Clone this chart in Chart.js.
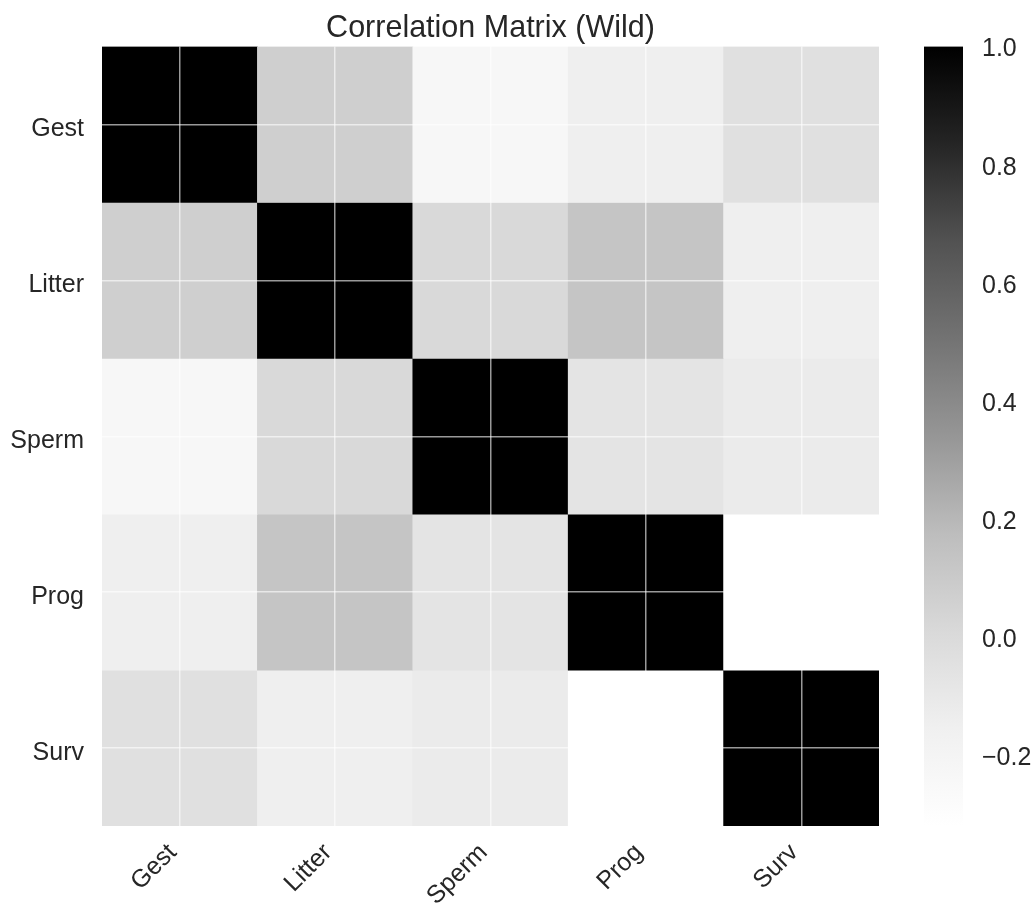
<!DOCTYPE html>
<html>
<head>
<meta charset="utf-8">
<script src="https://cdn.jsdelivr.net/npm/chart.js@4/dist/chart.umd.min.js"></script>
<style>
  body { margin: 0; background: #fff; }
  canvas { display: block; }
</style>
</head>
<body>
<canvas id="grafico" width="1036" height="909"></canvas>
<script>
// dados
const variaveis = ["Gest", "Litter", "Sperm", "Prog", "Surv"];
const linhaGest   = [1.00, 0.07, -0.23, -0.15, -0.04];
const linhaLitter = [0.07, 1.00, 0.01, 0.13, -0.15];
const linhaSperm  = [-0.23, 0.01, 1.00, -0.07, -0.12];
const linhaProg   = [-0.15, 0.13, -0.07, 1.00, -0.32];
const linhaSurv   = [-0.04, -0.15, -0.12, -0.32, 1.00];
const matriz = [linhaGest, linhaLitter, linhaSperm, linhaProg, linhaSurv];
const ticksBarra = [-0.2, 0.0, 0.2, 0.4, 0.6, 0.8, 1.0];

const vmin = Math.min(...matriz.flat());
const vmax = Math.max(...matriz.flat());

// paleta Greys (matplotlib)
const greys = [255, 240, 217, 189, 150, 115, 82, 37, 0];

function cinza(v) {
  let t = (v - vmin) / (vmax - vmin);
  t = Math.max(0, Math.min(1, t));
  let p = t * (greys.length - 1);
  let i = Math.min(Math.floor(p), greys.length - 2);
  let g = Math.round(greys[i] + (greys[i + 1] - greys[i]) * (p - i));
  return `rgb(${g},${g},${g})`;
}

const fonte = "'Liberation Sans', Arial, sans-serif";
const corTexto = "#262626";
const corGrade = "rgba(255,255,255,0.6)";

// cada linha da matriz vira um dataset empilhado
const datasets = matriz.map((linha, i) => ({
  label: variaveis[i],
  data: linha.map(() => 1),
  backgroundColor: linha.map(v => cinza(v)),
  borderWidth: 0,
  categoryPercentage: 1,
  barPercentage: 1
}));

// barra de cores desenhada na escala "cb"
const barraCores = {
  id: "barraCores",
  afterDraw(chart) {
    const s = chart.scales.cb;
    const ctx = chart.ctx;
    const x0 = s.left + 45;
    const w = 39;
    const yTop = s.getPixelForValue(vmax);
    const yBot = s.getPixelForValue(vmin);
    const grad = ctx.createLinearGradient(0, yBot, 0, yTop);
    greys.forEach((g, i) => {
      grad.addColorStop(i / (greys.length - 1), `rgb(${g},${g},${g})`);
    });
    ctx.save();
    ctx.fillStyle = grad;
    ctx.fillRect(x0, yTop, w, yBot - yTop);
    ctx.restore();
  }
};

let chart = new Chart(document.getElementById("grafico"), {
  type: "bar",
  data: { labels: variaveis, datasets: datasets },
  options: {
    responsive: false,
    animation: false,
    layout: { padding: 0 },
    plugins: {
      legend: { display: false },
      tooltip: { enabled: false },
      title: {
        display: true,
        fullSize: false,
        text: "Correlation Matrix (Wild)",
        color: corTexto,
        font: { family: fonte, size: 30.5, weight: "normal" },
        padding: { top: 10, bottom: 0 }
      }
    },
    scales: {
      x: {
        stacked: true,
        offset: true,
        grid: { offset: false, color: corGrade, lineWidth: 1.5, drawTicks: false, z: 1 },
        border: { display: false },
        ticks: {
          color: corTexto,
          font: { family: fonte, size: 25 },
          minRotation: 45,
          maxRotation: 45,
          autoSkip: false,
          padding: 12,
          labelOffset: -7
        },
        afterFit(s) { s.height = 83; }
      },
      y: {
        stacked: true,
        reverse: true,
        min: 0,
        max: variaveis.length,
        display: false
      },
      yl: {
        type: "category",
        labels: variaveis,
        position: "left",
        offset: true,
        grid: { offset: false, color: corGrade, lineWidth: 1.5, drawTicks: false, z: 1 },
        border: { display: false },
        ticks: { color: corTexto, font: { family: fonte, size: 25 }, padding: 18, labelOffset: 5 },
        afterFit(s) { s.width = 102; }
      },
      cb: {
        type: "linear",
        position: "right",
        min: vmin,
        max: vmax,
        grid: { drawOnChartArea: false, drawTicks: true, tickLength: 97, color: "rgba(0,0,0,0)" },
        border: { display: false },
        afterBuildTicks(s) { s.ticks = ticksBarra.map(v => ({ value: v })); },
        ticks: {
          color: corTexto,
          font: { family: fonte, size: 25 },
          padding: 6,
          labelOffset: 3,
          callback: v => (v < 0 ? "\u2212" + Math.abs(v).toFixed(1) : v.toFixed(1))
        },
        afterFit(s) { s.width = 157; }
      }
    }
  },
  plugins: [barraCores]
});
</script>
</body>
</html>
